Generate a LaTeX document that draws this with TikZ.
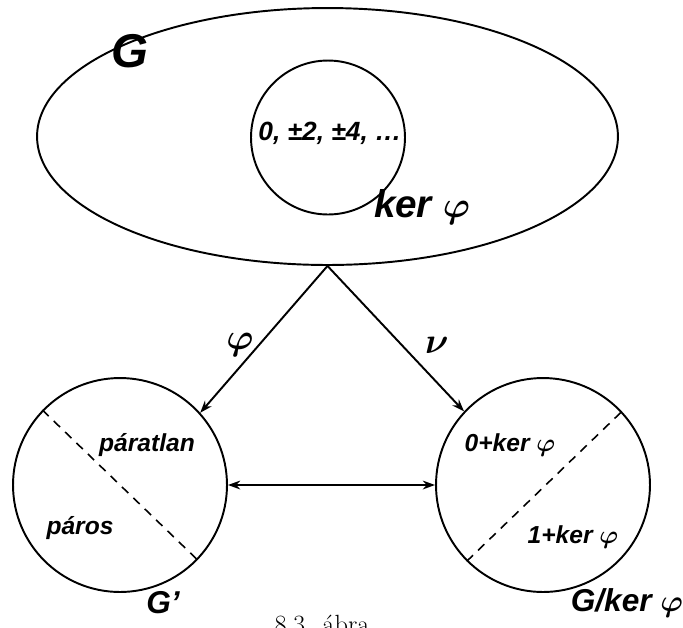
\documentclass[tikz,border=0pt]{standalone}
\usepackage{fontspec}
\usepackage{amsmath, amssymb, bm}
\usepackage{tikz}
\usetikzlibrary{arrows.meta, shapes.geometric, positioning}
\newfontfamily\labelfont{Liberation Sans}
\tikzset{
    set/.style = {draw, line width=1.1pt, inner sep=0pt},
    setlabel/.style = {inner sep=0pt, font=\labelfont\bfseries\itshape},
    maparrow/.style = {line width=1.1pt, -{Stealth[length=7pt, width=5pt]}},
    cut/.style = {dashed, line width=0.9pt, dash pattern=on 5pt off 4pt}
}

\begin{document}
\begin{tikzpicture}[x=0.02cm, y=-0.02cm]
    \useasboundingbox (0,0) rectangle (683,627);
    \clip (0,0) rectangle (683,627);

    % the group and its kernel
    \node[set, ellipse, minimum width=11.62cm, minimum height=5.14cm] (G) at (327.5,136.5) {};
    \node[set, circle, minimum size=3.08cm] (kernel) at (328,137.5) {};
    \node[setlabel, font=\labelfont\bfseries\itshape\fontsize{15}{17}\selectfont] (kerelems) at (330,133) {0, ±2, ±4, …};
    \node[setlabel, font=\labelfont\bfseries\itshape\fontsize{27}{30}\selectfont] (Glabel) at (130,51) {G};
    \node[setlabel, font=\labelfont\bfseries\itshape\fontsize{22}{24}\selectfont] (kerlabel) at (422,207) {ker $\bm{\varphi}$};

    % image and factor group
    \node[set, circle, minimum size=4.28cm] (Gp) at (120,485) {};
    \node[set, circle, minimum size=4.28cm] (Q) at (543,485) {};
    \draw[cut] (Gp.136) -- (Gp.-44);
    \draw[cut] (Q.225) -- (Q.43);

    \node[setlabel, font=\labelfont\bfseries\itshape\fontsize{14}{16}\selectfont] (odd) at (147,445) {páratlan};
    \node[setlabel, font=\labelfont\bfseries\itshape\fontsize{14}{16}\selectfont] (even) at (80,528) {páros};
    \node[setlabel, font=\labelfont\bfseries\itshape\fontsize{18}{20}\selectfont] (Gplabel) at (163,603) {G’};
    \node[setlabel, font=\labelfont\bfseries\itshape\fontsize{14}{16}\selectfont] (coset0) at (510,445) {0+ker $\bm{\varphi}$};
    \node[setlabel, font=\labelfont\bfseries\itshape\fontsize{14}{16}\selectfont] (coset1) at (573,537) {1+ker $\bm{\varphi}$};
    \node[setlabel, font=\labelfont\bfseries\itshape\fontsize{18}{20}\selectfont] (Qlabel) at (627,603) {G/ker $\bm{\varphi}$};

    % maps
    \draw[maparrow] (G.south) -- (Gp.42);
    \draw[maparrow] (G.south) -- (Q.137);
    \draw[maparrow, {Stealth[length=7pt, width=5pt]}-{Stealth[length=7pt, width=5pt]}] (Gp.east) -- (Q.west);
    \node[inner sep=0pt, font=\fontsize{20}{22}\selectfont] (phi) at (240,345) {$\bm{\varphi}$};
    \node[inner sep=0pt, font=\fontsize{20}{22}\selectfont] (nu) at (437,345) {$\bm{\nu}$};

    \node[inner sep=0pt, anchor=base, font=\fontsize{15}{17}\selectfont] (caption) at (322,633) {8.3. ábra};
\end{tikzpicture}
\end{document}
